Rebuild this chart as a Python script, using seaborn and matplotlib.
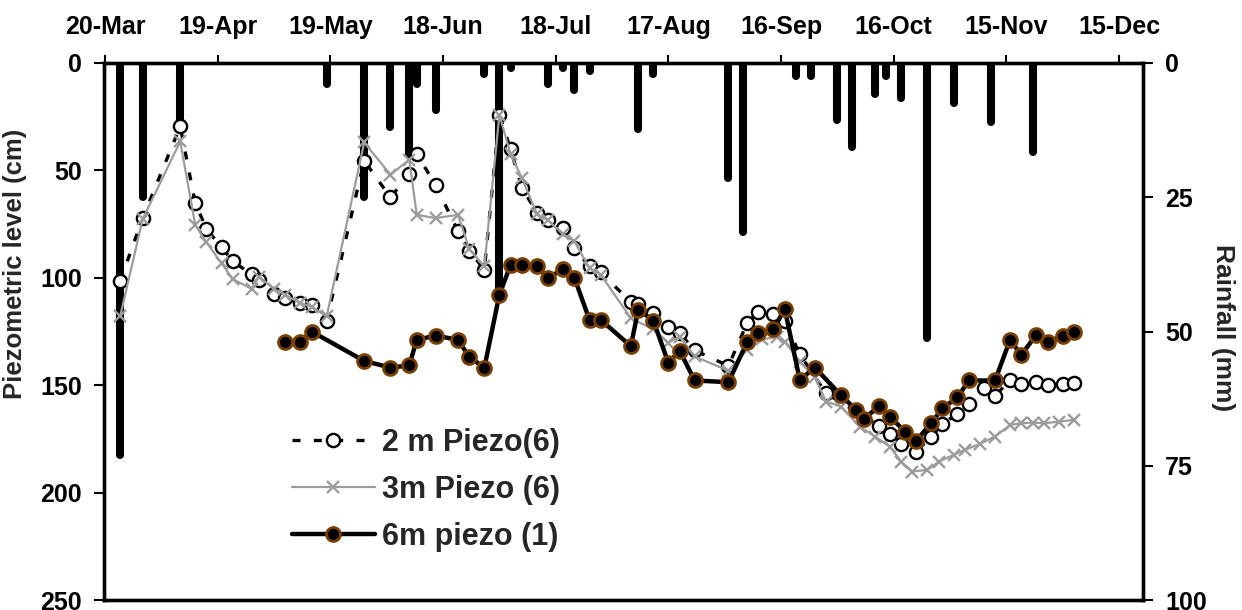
import matplotlib
matplotlib.use("Agg")
import numpy as np
import pandas as pd
import seaborn as sns
import matplotlib.pyplot as plt
import matplotlib.dates as mdates

sns.set_style("white")
plt.rcParams["font.family"] = ["Liberation Sans", "DejaVu Sans"]
plt.rcParams["font.weight"] = "bold"
plt.rcParams["axes.labelweight"] = "bold"

YEAR = "2011-"

# ---------------- data ----------------
piezo2_dates = ["03-24", "03-30", "04-09", "04-13", "04-16", "04-20", "04-23", "04-28", "04-30",
                "05-04", "05-07", "05-11", "05-14", "05-18", "05-28", "06-04", "06-09", "06-11",
                "06-16", "06-22", "06-25", "06-29", "07-03", "07-06", "07-09", "07-13", "07-16",
                "07-20", "07-23", "07-27", "07-30", "08-07", "08-09", "08-13", "08-17", "08-20",
                "08-24", "09-02", "09-07", "09-10", "09-14", "09-17", "09-21", "09-28", "10-12",
                "10-15", "10-18", "10-22", "10-26", "10-29", "11-02", "11-05", "11-09", "11-12",
                "11-16", "11-19", "11-23", "11-26", "11-30", "12-03"]
piezo2_level = [101.7, 72.2, 29.5, 65.2, 77.3, 85.7, 92.4, 98.3, 100.9,
                107.6, 109.5, 111.8, 112.6, 119.9, 45.5, 62.6, 51.7, 42.4,
                56.7, 78.4, 87.4, 96.3, 24.1, 40.2, 58.2, 69.6, 73.0,
                76.9, 86.2, 94.7, 97.5, 111.3, 112.0, 116.2, 122.8, 125.7,
                133.8, 141.0, 121.0, 115.8, 117.0, 120.3, 135.6, 153.8, 168.8,
                172.8, 177.3, 180.9, 173.9, 168.0, 163.3, 158.7, 151.4, 155.0,
                147.5, 149.5, 148.3, 149.8, 149.5, 148.8]

piezo3_dates = ["03-24", "03-30", "04-09", "04-13", "04-16", "04-20", "04-23", "04-28", "04-30",
                "05-04", "05-07", "05-11", "05-14", "05-18", "05-28", "06-04", "06-09", "06-11",
                "06-16", "06-22", "06-25", "06-29", "07-03", "07-06", "07-09", "07-13", "07-16",
                "07-20", "07-23", "07-27", "07-30", "08-07", "08-13", "08-17", "08-20", "08-24",
                "09-02", "09-07", "09-11", "09-15", "09-17", "09-21", "09-25", "09-28", "10-02",
                "10-07", "10-11", "10-15", "10-18", "10-21", "10-25", "10-28", "11-01", "11-04",
                "11-08", "11-12", "11-16", "11-19", "11-22", "11-25", "11-29", "12-03"]
piezo3_level = [118.0, 72.7, 36.5, 75.3, 83.5, 93.2, 100.6, 105.1, 99.4,
                105.3, 107.9, 111.8, 113.4, 118.0, 37.0, 52.0, 45.0, 70.7,
                72.2, 70.7, 86.7, 94.7, 24.1, 42.5, 53.6, 70.3, 73.3,
                79.7, 83.1, 95.5, 98.6, 118.8, 124.0, 130.2, 127.5, 136.6,
                143.3, 133.5, 128.7, 127.5, 129.7, 139.0, 146.4, 157.6, 160.0,
                169.3, 173.9, 178.6, 185.6, 190.2, 189.4, 185.6, 182.4, 180.1,
                177.3, 173.9, 168.5, 167.7, 167.4, 167.7, 167.0, 166.1]

piezo6_dates = ["05-07", "05-11", "05-14", "05-28", "06-04", "06-09", "06-11", "06-16", "06-22",
                "06-25", "06-29", "07-03", "07-06", "07-09", "07-13", "07-16", "07-20", "07-23",
                "07-27", "07-30", "08-07", "08-09", "08-13", "08-17", "08-20", "08-24", "09-02",
                "09-07", "09-10", "09-14", "09-17", "09-21", "09-25", "10-02", "10-06", "10-08",
                "10-12", "10-15", "10-19", "10-22", "10-26", "10-29", "11-02", "11-05", "11-12",
                "11-16", "11-19", "11-23", "11-26", "11-30", "12-03"]
piezo6_level = [130.0, 130.0, 125.0, 138.7, 141.8, 140.8, 128.9, 126.9, 128.9,
                136.9, 141.8, 107.9, 93.9, 93.9, 94.7, 100.1, 95.8, 100.1,
                119.6, 119.6, 131.8, 114.8, 119.9, 139.6, 133.9, 147.8, 148.6,
                129.8, 125.8, 123.9, 114.6, 147.5, 141.8, 154.7, 161.5, 165.8,
                159.9, 164.6, 171.6, 175.8, 167.7, 160.7, 155.7, 147.8, 147.8,
                128.9, 135.9, 126.5, 130.0, 126.9, 125.0]

rain_dates = ["03-24", "03-30", "04-09", "05-18", "05-28", "06-04", "06-09", "06-11", "06-16",
              "06-29", "07-03", "07-06", "07-16", "07-20", "07-23", "07-27", "08-09", "08-13",
              "09-02", "09-06", "09-20", "09-24", "10-01", "10-05", "10-11", "10-14", "10-18",
              "10-25", "11-01", "11-11", "11-22"]
rain_mm = [73.0, 25.0, 12.0, 4.0, 25.0, 12.0, 17.0, 4.0, 8.7,
           2.0, 44.0, 1.0, 4.0, 1.0, 5.0, 1.5, 12.3, 2.0,
           21.4, 31.4, 2.5, 2.5, 10.6, 15.6, 5.8, 2.5, 6.5,
           51.2, 7.5, 10.9, 16.5]

tick_dates = ["03-20", "04-19", "05-19", "06-18", "07-18", "08-17", "09-16", "10-16", "11-15", "12-15"]
series_labels = ["2 m Piezo(6)", "3m Piezo (6)", "6m piezo (1)"]

def to_dt(lst):
    return pd.to_datetime([YEAR + d for d in lst])

df2 = pd.DataFrame({"date": to_dt(piezo2_dates), "level": piezo2_level})
df3 = pd.DataFrame({"date": to_dt(piezo3_dates), "level": piezo3_level})
df6 = pd.DataFrame({"date": to_dt(piezo6_dates), "level": piezo6_level})
rain = pd.DataFrame({"date": to_dt(rain_dates), "mm": rain_mm})

# ---------------- figure ----------------
W, H = 1242, 610
fig = plt.figure(figsize=(W / 100, H / 100), dpi=100)
ax = fig.add_axes([104 / W, 1 - 600 / H, (1143 - 104) / W, (600 - 63) / H])
ax2 = ax.twinx()
ax.set_zorder(ax2.get_zorder() + 1)
ax.patch.set_visible(False)

# rainfall bars hanging from the top
ax2.vlines(rain["date"], 0, rain["mm"], colors="black", linewidth=5.8,
           capstyle="round")
ax2.set_ylim(100, 0)
ax2.set_yticks([0, 25, 50, 75, 100])

sns.lineplot(data=df2, x="date", y="level", ax=ax, sort=False, estimator=None,
             color="black", linewidth=2.4, linestyle=(0, (2.4, 4.0)),
             marker="o", markersize=9.5, markerfacecolor="white",
             markeredgecolor="black", markeredgewidth=1.7,
             label=series_labels[0], zorder=3)
sns.lineplot(data=df3, x="date", y="level", ax=ax, sort=False, estimator=None,
             color="#9c9c9c", linewidth=1.6,
             marker="x", markersize=9, markeredgecolor="#9c9c9c",
             markeredgewidth=1.7, label=series_labels[1], zorder=4)
sns.lineplot(data=df6, x="date", y="level", ax=ax, sort=False, estimator=None,
             color="black", linewidth=3.2,
             marker="o", markersize=10, markerfacecolor="black",
             markeredgecolor="#7a3f00", markeredgewidth=2.0,
             label=series_labels[2], zorder=5)

ax.set_ylim(250, 0)
ax.set_yticks([0, 50, 100, 150, 200, 250])
start = pd.Timestamp(YEAR + "03-20")
ax.set_xlim(start - pd.Timedelta(hours=7), start + pd.Timedelta(days=276.4))
ax.set_xticks(to_dt(tick_dates))
ax.xaxis.set_major_formatter(mdates.DateFormatter("%d-%b"))

ax.xaxis.tick_top()
ax.tick_params(axis="x", which="major", top=True, bottom=False, labeltop=True,
               labelbottom=False, direction="out", length=6, width=1.5,
               pad=11, labelsize=18, colors="black")
ax.tick_params(axis="y", left=True, direction="out", length=7, width=1.5,
               pad=9, labelsize=18, colors="black")
ax2.tick_params(axis="y", right=True, direction="out", length=7, width=1.5,
                pad=9, labelsize=18, colors="black")
ax.tick_params(axis="x", which="minor", top=False, bottom=False)

for a in (ax, ax2):
    for s in a.spines.values():
        s.set_linewidth(2.4)
        s.set_color("black")

ax.set_xlabel("")
ax.set_ylabel("Piezometric level (cm)", fontsize=18.5, fontweight="bold")
ax.yaxis.set_label_coords(-0.074, 0.626)
ax2.set_ylabel("Rainfall (mm)", fontsize=19, fontweight="bold", rotation=270,
               va="center")
ax2.yaxis.set_label_coords(1.077, 0.508)

handles, labels = ax.get_legend_handles_labels()
leg = ax.legend(handles, labels, loc="upper left",
                bbox_to_anchor=(292 / W, 1 - 428 / H),
                bbox_transform=fig.transFigure, frameon=False,
                prop={"size": 22, "weight": "bold"}, handlelength=2.7,
                handletextpad=0.26, labelspacing=0.55, borderpad=0,
                borderaxespad=0)

fig.savefig("out.png", dpi=100)
